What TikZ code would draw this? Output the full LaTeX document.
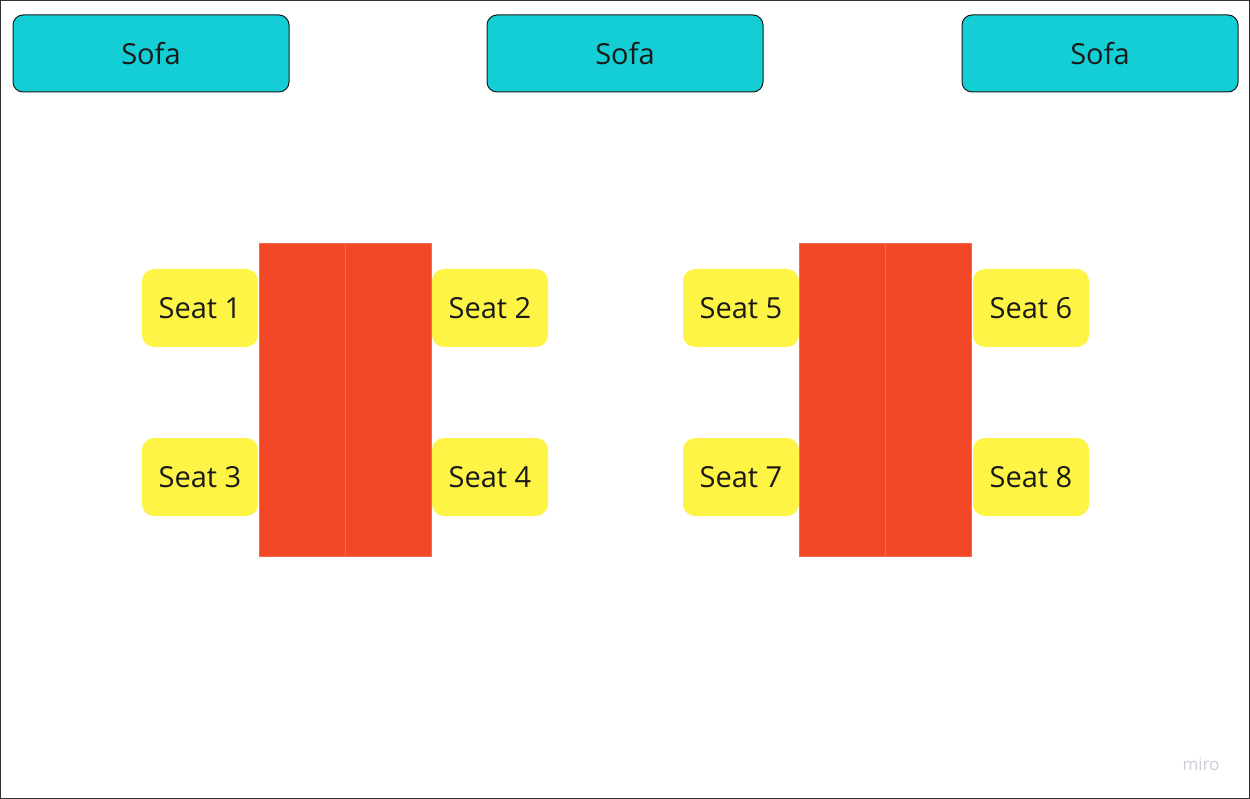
\documentclass[tikz,border=0pt]{standalone}
\usepackage{fontspec}
\setmainfont{Open Sans}
\definecolor{sofacol}{HTML}{13CED4}
\definecolor{seatcol}{HTML}{FEF445}
\definecolor{tablecol}{HTML}{F24726}
\definecolor{tableedge}{HTML}{F56A4C}
\definecolor{inkcol}{HTML}{1A1A1A}
\definecolor{logocol}{HTML}{C9CDD6}
\tikzset{
  sofa/.style={draw=inkcol, line width=1pt, fill=sofacol, rounded corners=10pt,
    minimum width=276pt, minimum height=77pt, inner sep=0pt, text=inkcol,
    font=\fontsize{29}{32}\selectfont},
  seat/.style={fill=seatcol, rounded corners=12pt,
    minimum width=116pt, minimum height=78pt, inner sep=0pt, text=inkcol,
    font=\fontsize{29}{32}\selectfont},
  tablehalf/.style={fill=tablecol, draw=tableedge, line width=0.6pt,
    minimum width=86pt, minimum height=313pt, inner sep=0pt},
}
\begin{document}
\begin{tikzpicture}[x=1pt,y=-1pt]
\useasboundingbox (0,0) rectangle (1250,799);
\fill[white] (0,0) rectangle (1250,799);
\draw[inkcol!90, line width=1.2pt] (0.6,0.6) rectangle (1249.4,798.4);
% sofas
\node[sofa] (sofa1) at (151,53.5) {Sofa};
\node[sofa] (sofa2) at (625,53.5) {Sofa};
\node[sofa] (sofa3) at (1100,53.5) {Sofa};
% tables
\node[tablehalf] (t1a) at (302,399.5) {};
\node[tablehalf] (t1b) at (388,399.5) {};
\node[tablehalf] (t2a) at (842,399.5) {};
\node[tablehalf] (t2b) at (928,399.5) {};
% seats
\node[seat] (s1) at (200,308) {Seat 1};
\node[seat] (s2) at (490,308) {Seat 2};
\node[seat] (s3) at (200,477) {Seat 3};
\node[seat] (s4) at (490,477) {Seat 4};
\node[seat] (s5) at (741,308) {Seat 5};
\node[seat] (s6) at (1031,308) {Seat 6};
\node[seat] (s7) at (741,477) {Seat 7};
\node[seat] (s8) at (1031,477) {Seat 8};
% logo
\node[text=logocol, font=\fontsize{17}{18}\selectfont, inner sep=0pt] (logo) at (1201,764) {miro};
\end{tikzpicture}
\end{document}
